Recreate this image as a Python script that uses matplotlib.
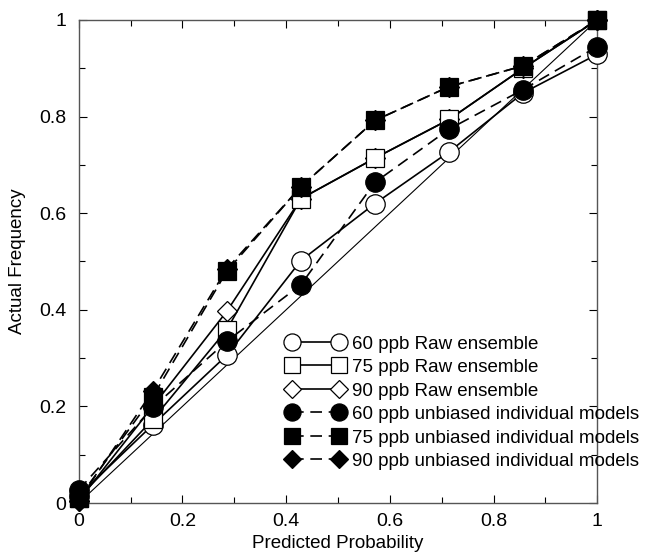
import matplotlib
matplotlib.use('Agg')
import matplotlib.pyplot as plt
from matplotlib.ticker import MultipleLocator
import numpy as np

plt.rcParams['font.family'] = ['Liberation Sans', 'DejaVu Sans']

# predicted probability bins (0..7 of 7 members)
prob = [0, 1/7, 2/7, 3/7, 4/7, 5/7, 6/7, 1]

raw_60 = [0.015, 0.162, 0.306, 0.502, 0.620, 0.727, 0.849, 0.929]
raw_75 = [0.010, 0.173, 0.359, 0.630, 0.714, 0.794, 0.900, 1.000]
raw_90 = [0.005, 0.200, 0.397, 0.630, 0.714, 0.794, 0.900, 1.000]
unb_60 = [0.027, 0.198, 0.335, 0.452, 0.664, 0.774, 0.856, 0.945]
unb_75 = [0.010, 0.220, 0.480, 0.655, 0.792, 0.862, 0.905, 1.000]
unb_90 = [0.005, 0.232, 0.485, 0.655, 0.792, 0.862, 0.905, 1.000]

labels = ['60 ppb Raw ensemble', '75 ppb Raw ensemble', '90 ppb Raw ensemble',
          '60 ppb unbiased individual models', '75 ppb unbiased individual models',
          '90 ppb unbiased individual models']

fig = plt.figure(figsize=(6.45, 5.54), dpi=100)
ax = fig.add_axes([0.122, 0.092, 0.804, 0.872])

# perfect reliability line
ax.plot([0, 1], [0, 1], color='black', lw=0.8, zorder=1)

dash = (0, (7, 4))
series = [
    (raw_60, 'o', 'white', '-', 14, 3),
    (raw_75, 's', 'white', '-', 12.5, 3),
    (raw_90, 'D', 'white', '-', 10, 2),
    (unb_60, 'o', 'black', dash, 14, 4),
    (unb_75, 's', 'black', dash, 12.5, 4),
    (unb_90, 'D', 'black', dash, 10, 4),
]
for (vals, mk, fc, ls, ms, z), lab in zip(series, labels):
    ax.plot(prob, vals, marker=mk, markerfacecolor=fc, markeredgecolor='black',
            markeredgewidth=0.9, color='black', linestyle=ls, lw=1.2,
            markersize=ms, label=lab, zorder=z, clip_on=False)

ax.set_xlim(0, 1)
ax.set_ylim(0, 1)
ax.xaxis.set_major_locator(MultipleLocator(0.2))
ax.xaxis.set_minor_locator(MultipleLocator(0.1))
ax.yaxis.set_major_locator(MultipleLocator(0.2))
ax.yaxis.set_minor_locator(MultipleLocator(0.1))


def fmt(v, p):
    if np.isclose(v, 0):
        return '0'
    if np.isclose(v, 1):
        return '1'
    return '%.1f' % v


ax.xaxis.set_major_formatter(plt.FuncFormatter(fmt))
ax.yaxis.set_major_formatter(plt.FuncFormatter(fmt))
ax.tick_params(which='both', direction='in', top=True, right=True, width=0.8)
ax.tick_params(which='major', length=6, labelsize=14)
ax.tick_params(axis='y', which='major', pad=9)
ax.tick_params(axis='x', which='major', pad=7)
ax.tick_params(which='minor', length=4)
for s in ax.spines.values():
    s.set_linewidth(1.0)
    s.set_color('#555555')

ax.set_xlabel('Predicted Probability', fontsize=13.5, labelpad=3.5)
ax.set_ylabel('Actual Frequency', fontsize=13.5, labelpad=9)

ax.legend(loc='upper left', bbox_to_anchor=(0.400, 0.347), frameon=False,
          numpoints=2, handlelength=3.1, handletextpad=0.4, markerscale=0.88,
          labelspacing=0.34, fontsize=13.5, borderpad=0, borderaxespad=0)

fig.savefig('out.png', dpi=100)
